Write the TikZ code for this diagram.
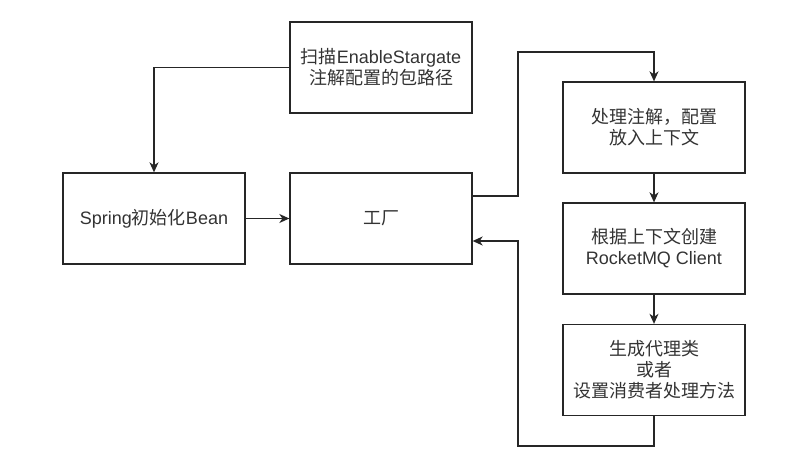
\documentclass[tikz,border=0pt]{standalone}
\usepackage{fontspec}
\setmainfont{Liberation Sans}
\newfontfamily\cjk{Noto Sans CJK SC}
\usetikzlibrary{arrows.meta}
\begin{document}
\begin{tikzpicture}[x=1pt,y=-1pt,
  box/.style={draw=black!85,line width=1.3pt,minimum width=182pt,minimum height=91pt,
    align=center,text=black!80,font=\fontsize{18}{21}\selectfont,inner sep=0pt},
  arr/.style={draw=black!85,line width=1.3pt,-{Stealth[length=10pt,width=9pt,inset=3pt]}},
  ln/.style={draw=black!85,line width=1.3pt}]
\useasboundingbox (0,0) rectangle (787,470);
\node[box] (top) at (381,67.5) {{\cjk 扫描}EnableStargate\\{\cjk 注解配置的包路径}};
\node[box] (spring) at (154,218.5) {Spring{\cjk 初始化}Bean};
\node[box] (factory) at (381,218.5) {\cjk 工厂};
\node[box] (b1) at (654,127.5) {\cjk 处理注解，配置\\\cjk 放入上下文};
\node[box] (b2) at (654,248.5) {{\cjk 根据上下文创建}\\RocketMQ Client};
\node[box] (b3) at (654,370) {\cjk 生成代理类\\\cjk 或者\\\cjk 设置消费者处理方法};
\coordinate (c1) at (518,52);
\coordinate (c2) at (518,446);
\draw[arr] (top.west) -| (spring.north);
\draw[arr] (spring.east) -- (factory.west);
\draw[arr] ([yshift=22.5pt]factory.east) -| (c1) -| (b1.north);
\draw[arr] (b1.south) -- (b2.north);
\draw[arr] (b2.south) -- (b3.north);
\draw[arr] (b3.south) |- (c2) |- ([yshift=-22.5pt]factory.east);
\end{tikzpicture}
\end{document}
